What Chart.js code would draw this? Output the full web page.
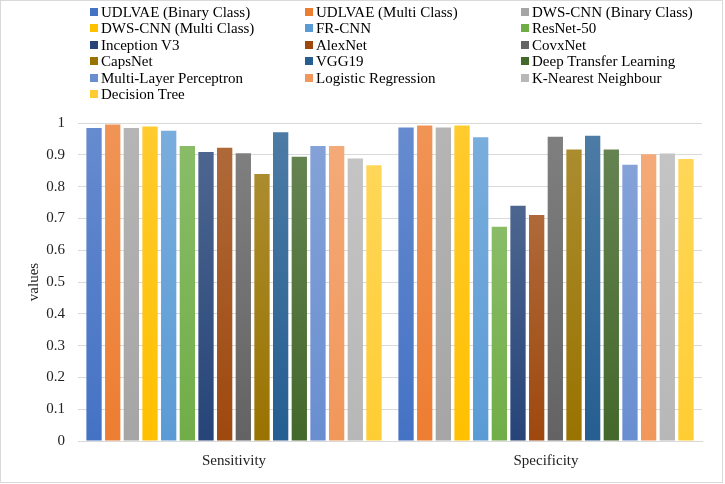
<!DOCTYPE html>
<html lang="en">
<head>
    <meta charset="UTF-8">
    <title>Sensitivity and Specificity</title>
    <script src="https://cdn.jsdelivr.net/npm/chart.js"></script>
    <style>
        body { margin: 0; background: #fff; }
        .frame {
            position: relative;
            width: 721px;
            height: 481px;
            border: 1px solid #d9d9d9;
            font-family: 'Liberation Serif', 'Times New Roman', serif;
        }
        #chart { position: absolute; left: 0; top: 0; }
        .legend {
            position: absolute;
            left: 89px;
            top: 3px;
            display: grid;
            grid-template-columns: 215px 216px 200px;
            grid-auto-rows: 16.4px;
            font-size: 15px;
            color: #000;
        }
        .legend div { white-space: nowrap; line-height: 16.4px; }
        .legend span {
            display: inline-block;
            width: 8px;
            height: 8px;
            margin-right: 3px;
            vertical-align: 1px;
        }
    </style>
</head>
<body>
    <div class="frame">
        <canvas id="chart" width="721" height="481"></canvas>
        <div class="legend" id="legend"></div>
    </div>

    <script>
        const categories = ['Sensitivity', 'Specificity'];
        const models = [
            'UDLVAE (Binary Class)', 'UDLVAE (Multi Class)', 'DWS-CNN (Binary Class)',
            'DWS-CNN (Multi Class)', 'FR-CNN', 'ResNet-50',
            'Inception V3', 'AlexNet', 'CovxNet',
            'CapsNet', 'VGG19', 'Deep Transfer Learning',
            'Multi-Layer Perceptron', 'Logistic Regression', 'K-Nearest Neighbour',
            'Decision Tree'
        ];
        const sensitivity = [0.984, 0.995, 0.984, 0.989, 0.976, 0.928, 0.909, 0.922,
                             0.905, 0.840, 0.971, 0.894, 0.928, 0.928, 0.888, 0.867];
        const specificity = [0.986, 0.992, 0.986, 0.992, 0.955, 0.674, 0.740, 0.711,
                             0.957, 0.917, 0.960, 0.917, 0.869, 0.902, 0.904, 0.887];
        const colors = ['#4472C4', '#ED7D31', '#A5A5A5', '#FFC000', '#5B9BD5', '#70AD47',
                        '#264478', '#9E480E', '#636363', '#997300', '#255E91', '#43682B',
                        '#698ED0', '#F1975A', '#B7B7B7', '#FFCD33'];
        const yTicks = [0, 0.1, 0.2, 0.3, 0.4, 0.5, 0.6, 0.7, 0.8, 0.9, 1];

        function lighten(hex, amt) {
            const n = parseInt(hex.slice(1), 16);
            const r = (n >> 16) & 255, g = (n >> 8) & 255, b = n & 255;
            const f = c => Math.round(c + (255 - c) * amt);
            return `rgb(${f(r)}, ${f(g)}, ${f(b)})`;
        }

        // Excel-like gradient: lighter at the top of each bar
        function barFill(index) {
            return ctx => {
                const chart = ctx.chart;
                if (!chart.chartArea || ctx.parsed === undefined) return colors[index];
                const y = chart.scales.y;
                const top = y.getPixelForValue(ctx.parsed.y);
                const bottom = y.getPixelForValue(0);
                const g = chart.ctx.createLinearGradient(0, top, 0, bottom);
                g.addColorStop(0, lighten(colors[index], 0.18));
                g.addColorStop(1, colors[index]);
                return g;
            };
        }

        const datasets = models.map((name, i) => ({
            label: name,
            data: [sensitivity[i], specificity[i]],
            backgroundColor: barFill(i),
            borderWidth: 0,
            barPercentage: 0.82,
            categoryPercentage: 0.957
        }));

        const serif = "'Liberation Serif', 'Times New Roman', serif";

        new Chart(document.getElementById('chart'), {
            type: 'bar',
            data: { labels: categories, datasets: datasets },
            options: {
                responsive: false,
                animation: false,
                layout: { padding: { top: 122, right: 20, left: 24, bottom: 9 } },
                plugins: {
                    legend: { display: false },
                    tooltip: { enabled: false }
                },
                scales: {
                    x: {
                        grid: { display: false },
                        border: { color: '#d9d9d9' },
                        ticks: { color: '#222', font: { family: serif, size: 15 }, padding: 3 }
                    },
                    y: {
                        min: 0,
                        max: 1,
                        afterBuildTicks: axis => { axis.ticks = yTicks.map(v => ({ value: v })); },
                        afterFit: axis => { axis.width = 53; },
                        grid: { color: '#d9d9d9', drawTicks: false },
                        border: { display: false },
                        ticks: {
                            color: '#222',
                            font: { family: serif, size: 15 },
                            padding: 13,
                            callback: v => String(Math.round(v * 10) / 10)
                        },
                        title: {
                            display: true,
                            text: 'values',
                            color: '#222',
                            font: { family: serif, size: 15 },
                            padding: 0
                        }
                    }
                }
            }
        });

        document.getElementById('legend').innerHTML = models.map((name, i) =>
            `<div><span style="background:${colors[i]}"></span>${name}</div>`
        ).join('');
    </script>
</body>
</html>
